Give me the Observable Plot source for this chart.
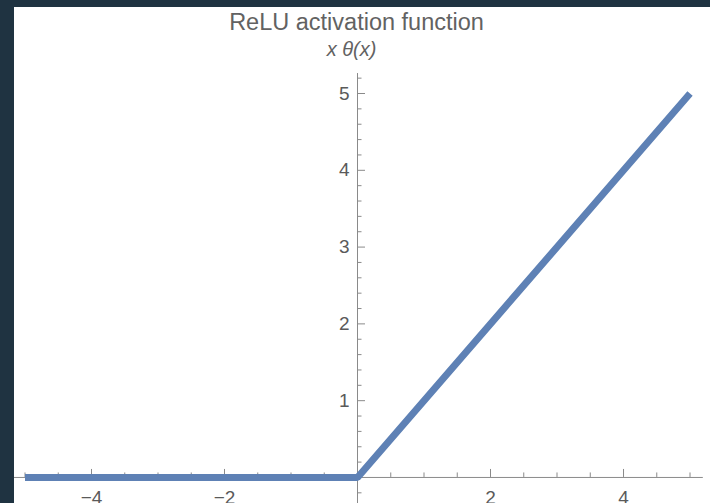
<!DOCTYPE html>
<html>
<head>
<meta charset="utf-8">
<script src="https://cdn.jsdelivr.net/npm/d3@7"></script>
<script src="https://cdn.jsdelivr.net/npm/@observablehq/plot@0.6"></script>
<style>
  html, body { margin: 0; padding: 0; background: #1f3341; width: 710px; height: 503px; overflow: hidden; }
  #panel { position: absolute; left: 14px; top: 7px; width: 696px; height: 496px; background: #fff; overflow: hidden; }
  .ttl { position: absolute; font-family: "Liberation Sans", Arial, sans-serif; color: #626262; white-space: nowrap; transform: translateX(-50%); }
  #title { font-size: 23.5px; line-height: 23.5px; top: 3.5px; left: 342.5px; }
  #subtitle { font-size: 20px; line-height: 20px; top: 32px; left: 337.5px; font-style: italic; }
  #chart { position: absolute; left: 0; top: 0; }
</style>
</head>
<body>
<div id="panel">
  <div id="chart"></div>
  <div id="title" class="ttl">ReLU activation function</div>
  <div id="subtitle" class="ttl">x θ(x)</div>
</div>
<script>
// Data: ReLU f(x) = x θ(x), sampled at its breakpoints
const xs = [-5, 0, 5];
const ys = [0, 0, 5];

// Tick values
const xMajor = [-4, -2, 2, 4];
const xMinor = [-5, -4.5, -3.5, -3, -2.5, -1.5, -1, -0.5, 0.5, 1, 1.5, 2.5, 3, 3.5, 4.5, 5];
const yMajor = [1, 2, 3, 4, 5];
const yMinor = [-0.2, 0.2, 0.4, 0.6, 0.8, 1.2, 1.4, 1.6, 1.8, 2.2, 2.4, 2.6, 2.8, 3.2, 3.4, 3.6, 3.8, 4.2, 4.4, 4.6, 4.8, 5.2];
const xAxisExtent = [-5.16, 5.2];
const yAxisExtent = [-0.34, 5.26];

const data = xs.map((x, i) => ({x, y: ys[i]}));
const fmt = d => (d < 0 ? "\u2212" + Math.abs(d) : String(d));
const axisColor = "#8a8a8a";
const labelColor = "#5a5a5a";

const chart = Plot.plot({
  width: 696,
  height: 496,
  marginLeft: 0, marginRight: 0, marginTop: 0, marginBottom: 0,
  style: {fontFamily: "'Liberation Sans', Arial, sans-serif", background: "transparent"},
  x: {domain: [-5.158, 5.308], axis: null},
  y: {domain: [-0.339, 6.12], axis: null},
  marks: [
    // axes through origin
    Plot.ruleY([0], {x1: xAxisExtent[0], x2: xAxisExtent[1], stroke: axisColor, strokeWidth: 1}),
    Plot.ruleX([0], {y1: yAxisExtent[0], y2: yAxisExtent[1], stroke: axisColor, strokeWidth: 1}),
    // x ticks (pointing up)
    Plot.ruleX(xMajor, {x: d => d, y1: 0, y2: 0, insetBottom: 8, stroke: axisColor}),
    Plot.ruleX(xMinor, {x: d => d, y1: 0, y2: 0, insetBottom: 4.5, stroke: axisColor}),
    // y ticks (pointing right)
    Plot.ruleY(yMajor, {y: d => d, x1: 0, x2: 0, insetRight: -8, stroke: axisColor}),
    Plot.ruleY(yMinor, {y: d => d, x1: 0, x2: 0, insetRight: -4.5, stroke: axisColor}),
    // tick labels
    Plot.text(xMajor, {x: d => d, y: 0, text: fmt, lineAnchor: "top", dy: 13, fontSize: 19, fill: labelColor}),
    Plot.text(yMajor, {x: 0, y: d => d, text: fmt, textAnchor: "end", dx: -8, fontSize: 19, fill: labelColor}),
    // the function
    Plot.line(data, {x: "x", y: "y", stroke: "#5E81B5", strokeWidth: 7, strokeLinecap: "butt", strokeLinejoin: "miter"})
  ]
});
document.getElementById("chart").appendChild(chart);
</script>
</body>
</html>
